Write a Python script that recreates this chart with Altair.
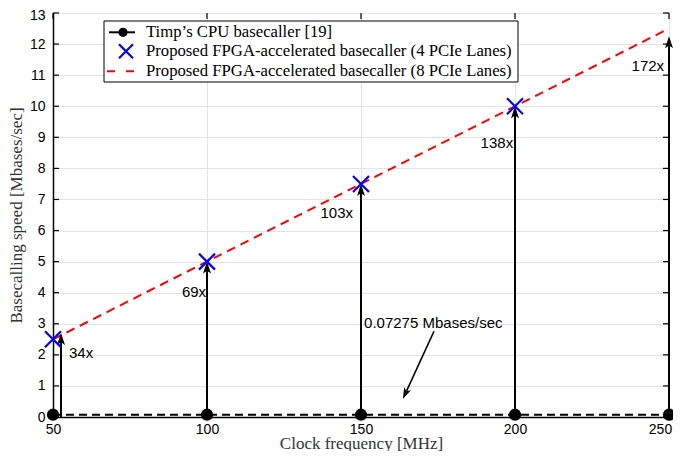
import altair as alt
import pandas as pd

# ---------------- data ----------------
clock_mhz = [50, 100, 150, 200, 250]
cpu_speed = [0.07275, 0.07275, 0.07275, 0.07275, 0.07275]

fpga4_clock = [50, 100, 150, 200]
fpga4_speed = [2.5, 5.0, 7.5, 10.0]

fpga8_clock = [50, 250]
fpga8_speed = [2.5, 12.5]

arrow_x = [52.6, 100, 150, 200, 250]
arrow_top = [2.7, 5.0, 7.5, 10.0, 12.25]

speedup_labels = ["34x", "69x", "103x", "138x", "172x"]
speedup_x = [55.2, 99.7, 147.4, 199.4, 248.4]
speedup_y = [2.05, 4.01, 6.55, 8.83, 11.3]
speedup_align = ["left", "right", "right", "right", "right"]

note_text = ["0.07275 Mbases/sec"]
note_x = [151.0]
note_y = [3.03]
note_from = [173.7, 2.76]
note_to = [163.6, 0.58]

x_ticks = [50, 100, 150, 200, 250]
y_ticks = list(range(0, 14))

legend_labels = [
    "Timp\u2019s CPU basecaller [19]",
    "Proposed FPGA-accelerated basecaller (4 PCIe Lanes)",
    "Proposed FPGA-accelerated basecaller (8 PCIe Lanes)",
]

# ---------------- layout ----------------
W, H = 616, 404
SANS = "Liberation Sans"
SERIF = "Liberation Serif"

xs = alt.Scale(domain=[50, 250], nice=False, zero=False)
ys = alt.Scale(domain=[0, 13], nice=False, zero=False)

x_axis = alt.Axis(
    values=x_ticks, title="Clock frequency [MHz]", format="d",
    labelFont=SANS, labelFontSize=14, labelColor="black", labelPadding=5,
    labelFlush=False, labelOverlap=False,
    labelOffset={"condition": {"test": "datum.value == 250", "value": -9}, "value": 0},
    ticks=False, tickSize=0, domainColor="black", domainWidth=1.5,
    grid=True, gridColor="#e3e3e3", gridWidth=1,
    titleFont=SERIF, titleFontSize=17, titleFontWeight="normal", titleColor="#333333",
    titleX=W / 2, titleY=31, titleAlign="center", titleBaseline="alphabetic",
)
y_axis = alt.Axis(
    values=y_ticks, title="Basecalling speed [Mbases/sec]", format="d",
    labelFont=SANS, labelFontSize=14, labelColor="black", labelPadding=8,
    labelFlush=False, labelOverlap=False,
    labelOffset={"condition": {"test": "datum.value == 13", "value": 2}, "value": 0},
    ticks=False, tickSize=0, domainColor="black", domainWidth=1.5,
    grid=True, gridColor="#e3e3e3", gridWidth=1,
    titleFont=SERIF, titleFontSize=17, titleFontWeight="normal", titleColor="#333333",
    titleX=-37, titleY=H / 2, titleAngle=-90, titleAlign="center", titleBaseline="middle",
)


def X(field):
    return alt.X(field, scale=xs, axis=x_axis)


def Y(field):
    return alt.Y(field, scale=ys, axis=y_axis)


cpu_df = pd.DataFrame({"clock": clock_mhz, "speed": cpu_speed})
f4_df = pd.DataFrame({"clock": fpga4_clock, "speed": fpga4_speed})
f8_df = pd.DataFrame({"clock": fpga8_clock, "speed": fpga8_speed})
arr_df = pd.DataFrame({"x": arrow_x, "top": arrow_top, "zero": [0.0] * len(arrow_x)})
lab_df = pd.DataFrame({"x": speedup_x, "y": speedup_y, "t": speedup_labels, "al": speedup_align})
one = pd.DataFrame({"a": [0]})

# CPU dashed line
cpu_line = alt.Chart(cpu_df).mark_line(color="black", strokeWidth=2, strokeDash=[8, 5]).encode(
    x=X("clock:Q"), y=Y("speed:Q"))

# inward ticks on all four sides
xt_df = pd.DataFrame({"v": x_ticks})
yt_df = pd.DataFrame({"v": y_ticks})
tick_style = dict(color="black", strokeWidth=1.2)
xt_bottom = alt.Chart(xt_df).mark_rule(**tick_style).encode(
    x=X("v:Q"), y=alt.value(H), y2=alt.value(H - 6))
xt_top = alt.Chart(xt_df).mark_rule(**tick_style).encode(
    x=X("v:Q"), y=alt.value(0), y2=alt.value(6))
yt_left = alt.Chart(yt_df).mark_rule(**tick_style).encode(
    y=Y("v:Q"), x=alt.value(0), x2=alt.value(6))
yt_right = alt.Chart(yt_df).mark_rule(**tick_style).encode(
    y=Y("v:Q"), x=alt.value(W - 6), x2=alt.value(W))

# red dashed line (8 lanes)
f8_line = alt.Chart(f8_df).mark_line(color="#ff0000", strokeWidth=2, strokeDash=[9, 6]).encode(
    x=X("clock:Q"), y=Y("speed:Q"))

HEAD = "M0,0L-1,3L0,2.3L1,3Z"

# vertical arrows
shafts = alt.Chart(arr_df).transform_calculate(end="datum.top - 0.2").mark_rule(
    color="black", strokeWidth=2).encode(x=X("x:Q"), y=Y("zero:Q"), y2="end:Q")
heads = alt.Chart(arr_df).mark_point(shape=HEAD, size=64, filled=True, color="black",
                                     opacity=1).encode(x=X("x:Q"), y=Y("top:Q"))

# blue X markers (4 lanes)
f4_pts = alt.Chart(f4_df).mark_point(
    shape="M-1,-1L1,1M-1,1L1,-1", size=256, filled=False, stroke="#0000ff",
    strokeWidth=2.2, opacity=1).encode(x=X("clock:Q"), y=Y("speed:Q"))

# CPU circles
cpu_pts = alt.Chart(cpu_df).mark_circle(size=150, color="black", opacity=1).encode(
    x=X("clock:Q"), y=Y("speed:Q"))

# speed-up labels
lab_left = alt.Chart(lab_df).transform_filter("datum.al == 'left'").mark_text(
    font=SANS, fontSize=15, color="black", align="left", baseline="middle").encode(
    x=X("x:Q"), y=Y("y:Q"), text="t:N")
lab_right = alt.Chart(lab_df).transform_filter("datum.al == 'right'").mark_text(
    font=SANS, fontSize=15, color="black", align="right", baseline="middle").encode(
    x=X("x:Q"), y=Y("y:Q"), text="t:N")

# annotation note with diagonal arrow
note_df = pd.DataFrame({"x": note_x, "y": note_y, "t": note_text})
note = alt.Chart(note_df).mark_text(font=SANS, fontSize=15, color="black", align="left",
                                    baseline="middle").encode(
    x=X("x:Q"), y=Y("y:Q"), text="t:N")
frac = 0.12
shaft_end = [note_to[0] + frac * (note_from[0] - note_to[0]),
             note_to[1] + frac * (note_from[1] - note_to[1])]
na_df = pd.DataFrame({"x": [note_from[0]], "y": [note_from[1]],
                      "x2": [shaft_end[0]], "y2": [shaft_end[1]],
                      "tx": [note_to[0]], "ty": [note_to[1]]})
note_shaft = alt.Chart(na_df).mark_rule(color="black", strokeWidth=1.6).encode(
    x=X("x:Q"), y=Y("y:Q"), x2="x2:Q", y2="y2:Q")
note_head = alt.Chart(na_df).mark_point(shape=HEAD, size=56, filled=True, color="black",
                                        opacity=1, angle=204.5).encode(
    x=X("tx:Q"), y=Y("ty:Q"))

# ---------------- manual legend ----------------
LX0, LX1, LY0, LY1 = 51, 465, 8, 69
rows_y = [19.3, 38.3, 58.3]
TX = 93
leg_box = alt.Chart(one).mark_rect(fill="white", stroke="black", strokeWidth=1).encode(
    x=alt.value(LX0), x2=alt.value(LX1), y=alt.value(LY0), y2=alt.value(LY1))
leg_l1 = alt.Chart(one).mark_rule(color="black", strokeWidth=2).encode(
    x=alt.value(56), x2=alt.value(82), y=alt.value(rows_y[0]))
leg_p1 = alt.Chart(one).mark_circle(size=85, color="black", opacity=1).encode(
    x=alt.value(70), y=alt.value(rows_y[0]))
leg_p2 = alt.Chart(one).mark_point(shape="M-1,-1L1,1M-1,1L1,-1", size=196, filled=False,
                                   stroke="#0000ff", strokeWidth=2.2, opacity=1).encode(
    x=alt.value(73), y=alt.value(rows_y[1]))
leg_l3 = alt.Chart(one).mark_rule(color="#ff0000", strokeWidth=2, strokeDash=[8, 11]).encode(
    x=alt.value(54), x2=alt.value(82), y=alt.value(rows_y[2]))
leg_texts = [
    alt.Chart(one).mark_text(font=SERIF, fontSize=16.7, color="black", align="left",
                             baseline="middle", text=lbl).encode(
        x=alt.value(TX), y=alt.value(ry))
    for lbl, ry in zip(legend_labels, rows_y)
]

chart = alt.layer(
    cpu_line, xt_bottom, xt_top, yt_left, yt_right,
    f8_line, shafts, heads, f4_pts, cpu_pts,
    lab_left, lab_right, note_shaft, note_head, note,
    leg_box, leg_l1, leg_p1, leg_p2, leg_l3, *leg_texts,
).properties(
    width=W, height=H,
    autosize=alt.AutoSizeParams(type="none"),
    padding={"left": 45, "top": 5, "right": 4, "bottom": 34},
).configure_view(stroke="black", strokeWidth=1.5).configure(background="white")

chart.save("out.html", embed_options={"renderer": "svg", "actions": False})
